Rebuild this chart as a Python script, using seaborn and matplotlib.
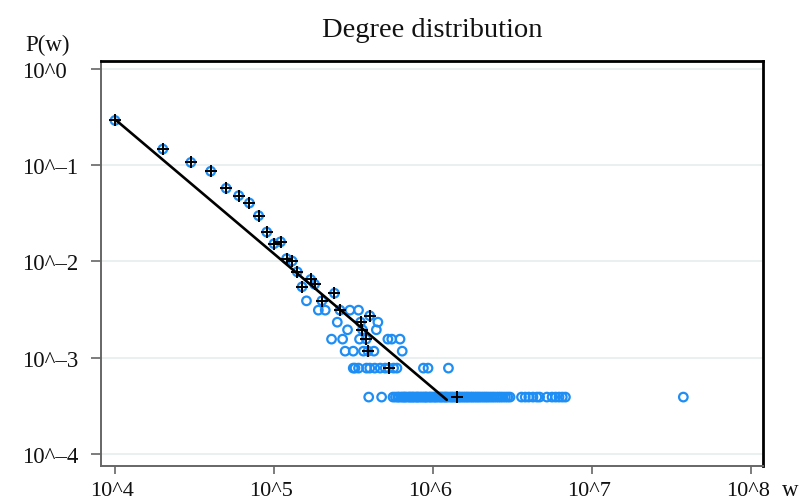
import matplotlib
matplotlib.use("Agg")
import matplotlib.pyplot as plt
import matplotlib.transforms as mtrans
import seaborn as sns
import pandas as pd
from matplotlib.ticker import FixedLocator, FixedFormatter, NullLocator

sns.set_theme(style="white")
plt.rcParams['font.family'] = ['Liberation Serif', 'DejaVu Serif']
plt.rcParams['text.color'] = '#111111'
plt.rcParams['xtick.labelcolor'] = '#111111'
plt.rcParams['ytick.labelcolor'] = '#111111'

# ---- data (w in units of 10^4) ----
head_k = [1, 2, 3, 4, 5, 6, 7, 8, 9, 10, 11, 12]
head_p = [0.292, 0.147, 0.107, 0.0866, 0.0576, 0.0483, 0.0405, 0.0299, 0.0202, 0.0153, 0.0160, 0.0107]

mid_k = [13, 14, 15, 16, 17, 18, 19, 20, 21, 24, 26, 30, 34, 25, 35, 40, 45, 29, 36, 44]
mid_p = [0.0101, 0.0078, 0.00545, 0.0039, 0.0065, 0.0058, 0.00312, 0.0039, 0.00312, 0.00468,
         0.00312, 0.00312, 0.00312, 0.00234, 0.00234, 0.00273, 0.00234, 0.00195, 0.00195, 0.00195]

row4_k = [23, 27, 34.5, 38, 52, 55, 62]
row4_p = 0.00156
row3_k = [28, 31.5, 36.5, 39, 42.5, 64]
row3_p = 0.00117
row2_k = [31.5, 32.3, 34, 38.2, 40, 43, 46.5, 50, 52.6, 56.5, 59.3, 87, 93, 125]
row2_p = 0.00078
row1_k = [39.4, 47.5, 56, 58, 60, 61, 63, 64.5, 66, 67, 69, 71, 72, 74, 75, 77, 79, 80, 82, 84,
          86, 88, 90, 91, 94, 96, 98, 101, 103, 105, 108, 111, 113, 116, 119, 121, 124, 128,
          131, 134, 138, 141, 145, 148, 152, 156, 160, 164, 168, 173, 177, 182, 187, 192, 197,
          203, 209, 215, 221, 228, 235, 242, 250, 258, 266, 275, 285, 295, 305,
          360, 380, 400, 425, 450, 468, 520, 560, 590, 620, 650, 680, 3750]
row1_p = 0.00039

plus_k = [1, 2, 3, 4, 5, 6, 7, 8, 9, 10, 11, 12, 13, 14, 15, 17, 18, 20, 24, 26, 35, 40, 36, 38, 39, 52.6, 141]
plus_p = [0.292, 0.147, 0.107, 0.0866, 0.0576, 0.0483, 0.0405, 0.0299, 0.0202, 0.0153, 0.0160, 0.0107,
          0.0101, 0.0078, 0.00545, 0.0065, 0.0058, 0.0039, 0.00468, 0.00312, 0.00234, 0.00273,
          0.00195, 0.00156, 0.00117, 0.00078, 0.00039]

fit_w = [1e4, 1.22e6]
fit_p = [0.30, 3.65e-4]

x_ticks = [1e4, 1e5, 1e6, 1e7, 1e8]
x_labels = ["10^4", "10^5", "10^6", "10^7", "10^8"]
y_ticks = [1, 1e-1, 1e-2, 1e-3, 1e-4]
y_labels = ["10^0", "10^\u20131", "10^\u20132", "10^\u20133", "10^\u20134"]

UNIT = 1e4
circ_k = head_k + mid_k + row4_k + row3_k + row2_k + row1_k
circ_p = (head_p + mid_p + [row4_p] * len(row4_k) + [row3_p] * len(row3_k)
          + [row2_p] * len(row2_k) + [row1_p] * len(row1_k))
circles = pd.DataFrame({"w": [k * UNIT for k in circ_k], "p": circ_p})
pluses = pd.DataFrame({"w": [k * UNIT for k in plus_k], "p": plus_p})
fit = pd.DataFrame({"w": fit_w, "p": fit_p})

fig = plt.figure(figsize=(7.99, 5.02), dpi=100)
ax = fig.add_axes([101 / 799, 1 - 467 / 502, (763 - 101) / 799, (467 - 62) / 502])
ax.set_xscale("log")
ax.set_yscale("log")

blue = "#1e8ef5"
sns.scatterplot(data=circles, x="w", y="p", ax=ax, marker="o", s=38,
                facecolor="none", edgecolor=blue, linewidth=1.6, zorder=3)
sns.lineplot(data=fit, x="w", y="p", ax=ax, color="black", linewidth=1.9, zorder=4)
sns.scatterplot(data=pluses, x="w", y="p", ax=ax, marker="+", s=80,
                color="black", linewidth=1.4, zorder=5)

ax.set_xlim(10 ** 3.912, 10 ** 8.075)
ax.set_ylim(10 ** -4.125, 10 ** 0.083)

ax.xaxis.set_major_locator(FixedLocator(x_ticks))
ax.xaxis.set_major_formatter(FixedFormatter(x_labels))
ax.xaxis.set_minor_locator(NullLocator())
ax.yaxis.set_major_locator(FixedLocator(y_ticks))
ax.yaxis.set_major_formatter(FixedFormatter(y_labels))
ax.yaxis.set_minor_locator(NullLocator())

ax.set_xlabel("")
ax.set_ylabel("")
ax.grid(axis="y", color="#e6eeee", linewidth=1.2)
ax.grid(axis="x", visible=False)
ax.set_axisbelow(True)

ax.tick_params(axis="x", direction="out", length=6, width=1.2, color="#666666",
               labelsize=16, pad=5, bottom=True)
ax.tick_params(axis="y", direction="out", length=7, width=1.2, color="#666666",
               labelsize=16.5, pad=50, left=True)
for lab in ax.get_yticklabels():
    lab.set_horizontalalignment("left")
shift = mtrans.ScaledTranslation(-3 / 100, 0, fig.dpi_scale_trans)
for lab in ax.get_xticklabels():
    lab.set_transform(lab.get_transform() + shift)

for side in ["left", "bottom"]:
    ax.spines[side].set_color("#666666")
    ax.spines[side].set_linewidth(1.4)
for side in ["top", "right"]:
    ax.spines[side].set_color("black")
    ax.spines[side].set_linewidth(2.0)

ax.set_title("Degree distribution", fontsize=20.5, pad=18)
fig.text(48 / 799, 1 - 45 / 502, "P(w)", fontsize=16.5, ha="center", va="center")
fig.text(790 / 799, 1 - 491 / 502, "w", fontsize=16.5, ha="center", va="center")

fig.savefig("out.png", dpi=100)
